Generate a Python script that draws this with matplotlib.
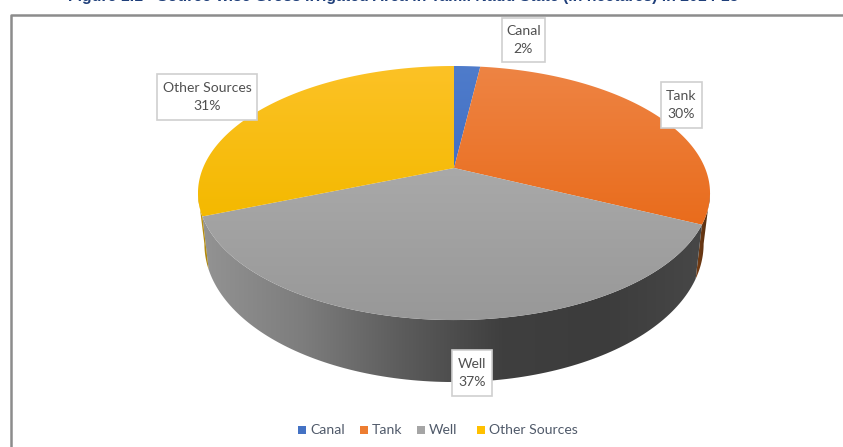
import numpy as np
import matplotlib
matplotlib.use('Agg')
import matplotlib.pyplot as plt
from matplotlib.colors import LinearSegmentedColormap
from matplotlib.patches import Rectangle, Polygon

title = 'Figure 1.1 - Source-wise Gross Irrigated Area in Tamil Nadu State (in hectares) in 2014-15'
sources = ['Canal', 'Tank', 'Well', 'Other Sources']
shares = [2, 30, 37, 31]
top_colors = [('#4f7ccb', '#4270c4'), ('#ee8444', '#e96c1c'),
              ('#a9a9a9', '#989898'), ('#fcc226', '#f4b900')]
legend_colors = ['#4472c4', '#ed7d31', '#a5a5a5', '#ffc000']

plt.rcParams['font.family'] = ['Lato', 'DejaVu Sans']

fig = plt.figure(figsize=(8.43, 4.47), dpi=100)
ax = fig.add_axes([0, 0, 1, 1])
ax.set_xlim(0, 843)
ax.set_ylim(447, 0)
ax.axis('off')

# pie centre on screen and perspective of the tilted disc
cx = 454
cy = 168
R = 251
tilt = 0.197
rise = -89


def rim(clock_deg, shrink=1.0):
    t = np.radians(90 - np.asarray(clock_deg, dtype=float))
    w = 1 + tilt*np.sin(t)
    return cx + shrink*R*np.cos(t)/w, (rise*np.sin(t) + cy)/w


def lower_rim(clock_deg):
    # bottom edge of the wall, deeper towards the viewer
    x, y = rim(clock_deg, 0.975)
    t = np.radians(90 - np.asarray(clock_deg, dtype=float))
    return x, y + 48 + 14*np.abs(np.sin(t))


def gradient_fill(poly, stops, vertical=True):
    cmap = LinearSegmentedColormap.from_list('g', stops)
    grad = np.linspace(0, 1, 256)
    grad = grad[:, None] if vertical else grad[None, :]
    x0, y0 = poly.min(axis=0)
    x1, y1 = poly.max(axis=0)
    im = ax.imshow(grad, cmap=cmap, extent=[x0, x1, y1, y0], aspect='auto', zorder=2)
    patch = Polygon(poly, closed=True, transform=ax.transData, fc='none', ec='none')
    ax.add_patch(patch)
    im.set_clip_path(patch)


edges = np.cumsum([0] + shares)*3.6

# outer wall of the disc, only the part facing the viewer
wall_from = 101.4
wall_to = 258.6
wall_styles = [None,
               ['#7a3f14', '#4a2a12'],
               ['#939393', '#7d7d7d', '#5c5c5c', '#3f3f3f', '#3c3c3c', '#474747'],
               ['#c79a10', '#a8820c']]
for i in range(len(shares)):
    a = max(edges[i], wall_from)
    b = min(edges[i+1], wall_to)
    if b <= a or wall_styles[i] is None:
        continue
    th = np.linspace(a, b, 120)
    xt, yt = rim(th)
    xb, yb = lower_rim(th)
    poly = np.column_stack([np.r_[xt, xb[::-1]], np.r_[yt, yb[::-1]]])
    gradient_fill(poly, wall_styles[i], vertical=False)

# top face slices
for i in range(len(shares)):
    th = np.linspace(edges[i], edges[i+1], 160)
    xt, yt = rim(th)
    poly = np.column_stack([np.r_[cx, xt], np.r_[cy, yt]])
    gradient_fill(poly, top_colors[i])

ax.set_xlim(0, 843)
ax.set_ylim(447, 0)

# chart frame, runs off the right and bottom
ax.plot([11, 11, 843], [447, 15, 15], color='#8c8c8c', lw=1.8, zorder=1)

# heading sits at the very top edge, only its lowest strokes fall inside the figure
ax.text(68, 1, title, ha='left', va='baseline', fontsize=11.4, fontweight='bold',
        color='#1f3f7a', family=['Liberation Sans', 'DejaVu Sans'], zorder=5)

# data labels in white boxes
boxes = [(502, 18, 545, 62), (661, 82, 702, 128), (452, 350, 492, 396), (157, 74, 257, 120)]
for i in range(len(shares)):
    x0, y0, x1, y1 = boxes[i]
    ax.add_patch(Rectangle((x0, y0), x1-x0, y1-y0, fc='white', ec='#cfcfcf', lw=1.2, zorder=6))
    ax.text((x0+x1)/2, (y0+y1)/2, f'{sources[i]}\n{shares[i]}%', ha='center', va='center',
            fontsize=10.1, color='#505050', linespacing=1.55, zorder=7)

# legend along the bottom
marker_x = [298, 360, 417, 477]
for i in range(len(sources)):
    ax.add_patch(Rectangle((marker_x[i], 426), 8, 8, fc=legend_colors[i], ec='none', zorder=6))
    ax.text(marker_x[i]+12, 430, sources[i], ha='left', va='center', fontsize=10.1,
            color='#505a6a', zorder=7)

fig.savefig('out.png', dpi=100)
